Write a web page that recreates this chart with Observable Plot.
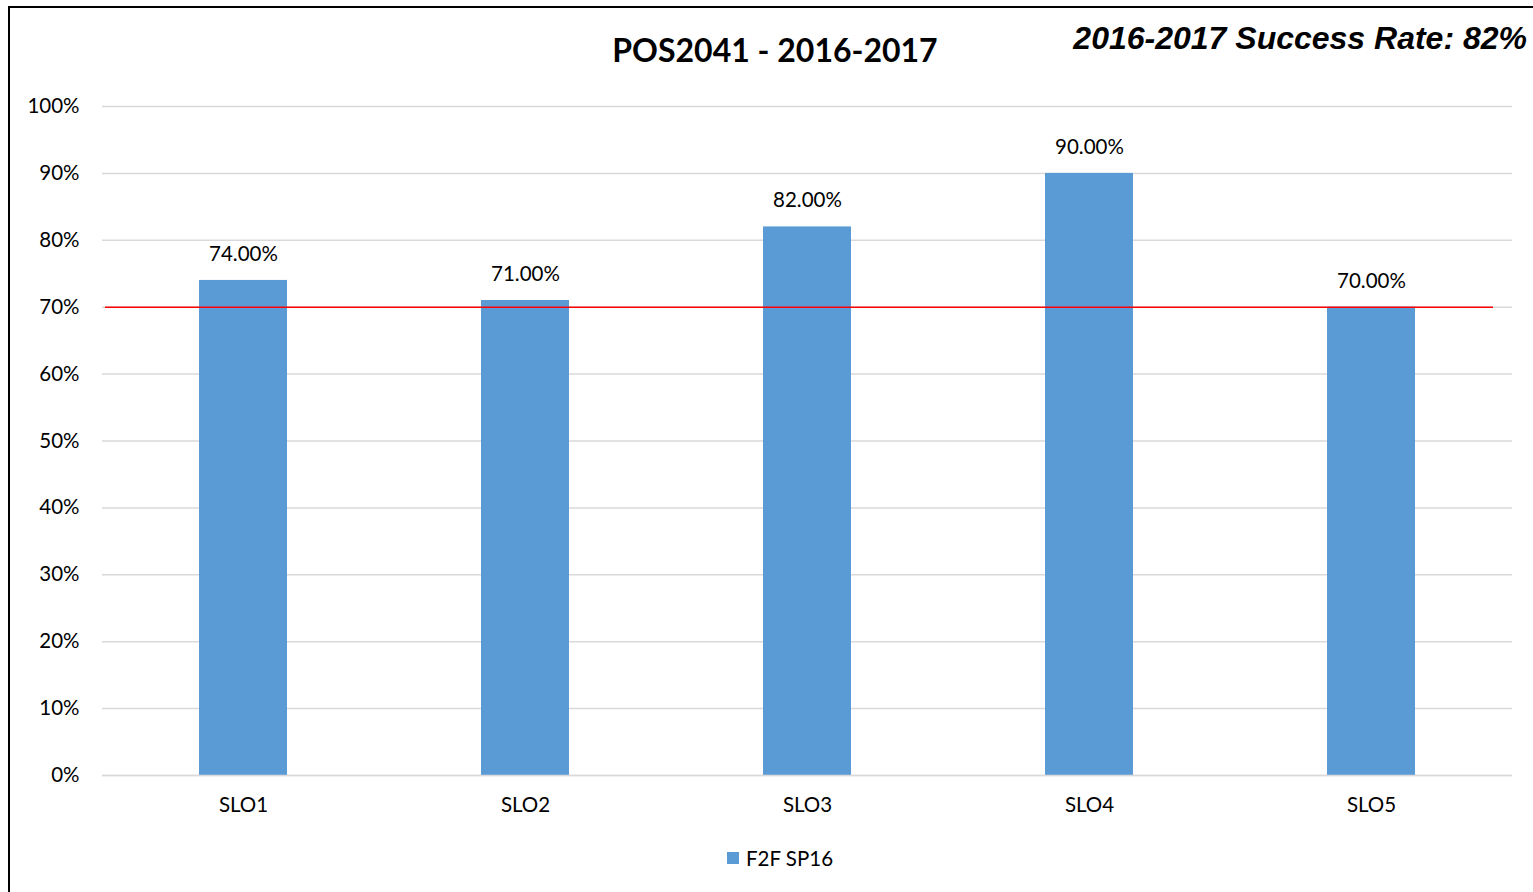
<!DOCTYPE html>
<html>
<head>
<meta charset="utf-8">
<script src="https://cdn.jsdelivr.net/npm/d3@7"></script>
<script src="https://cdn.jsdelivr.net/npm/@observablehq/plot@0.6"></script>
<style>
  html, body { margin: 0; padding: 0; background: #fff; }
  #wrap { position: relative; width: 1533px; height: 892px; overflow: hidden; }
  #frame { position: absolute; left: 8px; top: 6px; width: 1540px; height: 900px; border: 2px solid #000; box-sizing: border-box; pointer-events: none; }
  #title { position: absolute; left: 0; width: 1550px; text-align: center; top: 30px; font: bold 32px Lato, "Noto Sans", sans-serif; color: #000; }
  #rate { position: absolute; right: 6px; top: 20px; font: italic bold 32px "Liberation Sans", Arial, sans-serif; color: #000; }
  #legend { position: absolute; left: 727px; top: 846px; font: 20.5px Lato, "Noto Sans", sans-serif; color: #000; display: flex; align-items: center; }
  #legend .sw { width: 12px; height: 12px; background: #5b9bd5; margin-right: 7px; }
  #chart { position: absolute; left: 0; top: 0; }
</style>
</head>
<body>
<div id="wrap">
  <div id="chart"></div>
  <div id="title"></div>
  <div id="rate"></div>
  <div id="legend"><div class="sw"></div><span id="legtext"></span></div>
  <div id="frame"></div>
</div>
<script>
const titleText = "POS2041 - 2016-2017";
const rateText = "2016-2017 Success Rate: 82%";
const seriesName = "F2F SP16";
const categories = ["SLO1", "SLO2", "SLO3", "SLO4", "SLO5"];
const values = [74, 71, 82, 90, 70];
const target = 70;
const yTicks = [0, 10, 20, 30, 40, 50, 60, 70, 80, 90, 100];

document.getElementById("title").textContent = titleText;
document.getElementById("rate").textContent = rateText;
document.getElementById("legtext").textContent = seriesName;

const data = categories.map((c, i) => ({cat: c, value: values[i]}));

const chart = Plot.plot({
  width: 1533,
  height: 892,
  marginLeft: 102,
  marginRight: 21,
  marginTop: 106,
  marginBottom: 117,
  style: {fontFamily: "Lato, 'Noto Sans', sans-serif", fontSize: "20.5px", color: "#000", background: "transparent"},
  x: {type: "band", domain: categories, paddingInner: 0.688, paddingOuter: 0.344, label: null},
  y: {domain: [0, 100], label: null},
  marks: [
    Plot.gridY(yTicks, {stroke: "#d9d9d9", strokeOpacity: 1, strokeWidth: 1.5}),
    Plot.axisY(yTicks, {tickSize: 0, tickPadding: 23, tickFormat: d => d + "%", label: null, fontSize: 20.5}),
    Plot.axisX({tickSize: 0, tickPadding: 22, label: null, fontSize: 20.5}),
    Plot.barY(data, {x: "cat", y: "value", fill: "#5b9bd5"}),
    Plot.ruleY([0], {stroke: "#d9d9d9", strokeWidth: 1.5}),
    Plot.ruleY([target], {stroke: "#ff0000", strokeWidth: 1.5, insetLeft: 3, insetRight: 19}),
    Plot.text(data, {x: "cat", y: "value", text: d => d.value.toFixed(2) + "%", dy: -26, fontSize: 20.5, fill: "#000"})
  ]
});
document.getElementById("chart").appendChild(chart);
</script>
</body>
</html>
